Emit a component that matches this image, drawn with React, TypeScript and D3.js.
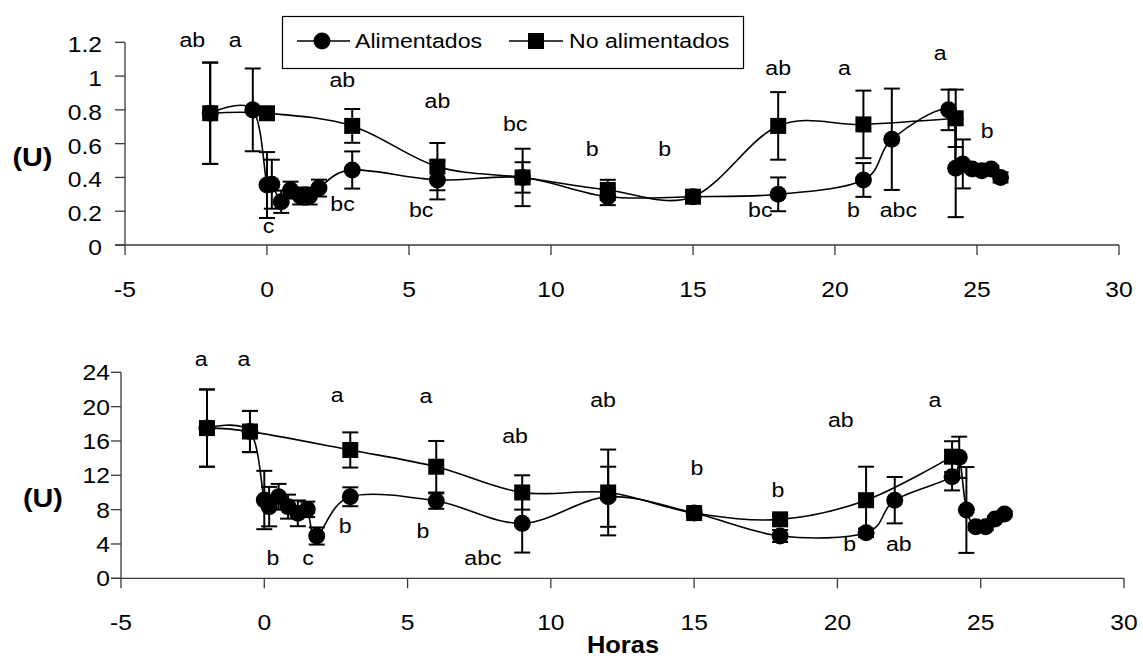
import React from "react";
import * as d3 from "d3";

const W = 1143;
const H = 660;
const FONT = "'Liberation Sans', Arial, sans-serif";

// ---------- Top panel data ----------
const topFedHours = [-2, -0.5, 0, 0.17, 0.5, 0.83, 1.17, 1.5, 1.83, 3, 6, 9, 12, 15, 18, 21, 22, 24, 24.25, 24.5, 24.83, 25.17, 25.5, 25.83];
const topFedValues = [0.78, 0.8, 0.355, 0.36, 0.256, 0.325, 0.29, 0.29, 0.337, 0.444, 0.385, 0.4, 0.286, 0.286, 0.3, 0.385, 0.626, 0.8, 0.455, 0.48, 0.45, 0.44, 0.45, 0.4];
const topFedErrors = [0.3, 0.245, 0.195, 0.145, 0.066, 0.05, 0.05, 0.05, 0.05, 0.11, 0.115, 0.17, 0.05, 0.02, 0.1, 0.1, 0.3, 0.12, 0.29, 0.145, 0.02, 0.02, 0.02, 0.03];

const topUnfedHours = [-2, 0, 3, 6, 9, 12, 15, 18, 21, 24.25];
const topUnfedValues = [0.78, 0.78, 0.705, 0.464, 0.4, 0.326, 0.286, 0.705, 0.714, 0.75];
const topUnfedErrors = [0.3, 0.01, 0.1, 0.14, 0.09, 0.06, 0.02, 0.2, 0.2, 0.17];

const topLetters = ["ab", "a", "ab", "c", "bc", "ab", "bc", "b", "b", "bc", "ab", "a", "a", "b", "bc", "b", "abc"];
const topLetterHours = [-2.63, -1.12, 2.65, 0.05, 2.66, 6.0, 8.74, 11.45, 14.0, 5.43, 18.0, 20.33, 23.7, 25.36, 17.37, 20.65, 22.23];
const topLetterLevels = [1.17, 1.17, 0.935, 0.071, 0.203, 0.81, 0.675, 0.527, 0.527, 0.166, 1.006, 1.006, 1.095, 0.633, 0.166, 0.166, 0.166];

const topYTicks = [0, 0.2, 0.4, 0.6, 0.8, 1, 1.2];

// ---------- Bottom panel data ----------
const botFedHours = [-2, -0.5, 0, 0.17, 0.5, 0.83, 1.17, 1.5, 1.83, 3, 6, 9, 12, 15, 18, 21, 22, 24, 24.25, 24.5, 24.83, 25.17, 25.5, 25.83];
const botFedValues = [17.5, 17.1, 9.12, 8.35, 9.5, 8.35, 7.57, 8.03, 4.93, 9.5, 9.0, 6.4, 9.5, 7.6, 4.93, 5.3, 9.1, 11.84, 14.1, 7.96, 6.0, 6.0, 6.9, 7.5];
const botFedErrors = [4.5, 2.4, 3.4, 2.3, 1.5, 1.4, 1.5, 0.9, 1.0, 1.1, 0.9, 3.4, 3.5, 0.4, 0.7, 0.5, 2.7, 1.6, 2.4, 5.0, 0.4, 0.4, 0.3, 0.3];

const botUnfedHours = [-2, -0.5, 3, 6, 9, 12, 15, 18, 21, 24];
const botUnfedValues = [17.5, 17.1, 14.95, 13.0, 10.0, 10.0, 7.6, 6.87, 9.1, 14.17];
const botUnfedErrors = [4.5, 2.4, 2.05, 3.0, 2.0, 5.0, 0.3, 0.5, 3.9, 1.8];

const botLetters = ["a", "a", "a", "b", "c", "b", "a", "ab", "ab", "b", "b", "abc", "b", "ab", "a", "b", "ab"];
const botLetterHours = [-2.2, -0.71, 2.54, 0.3, 1.53, 2.82, 5.64, 8.75, 11.82, 15.1, 5.54, 7.63, 17.92, 20.12, 23.4, 20.43, 22.14];
const botLetterLevels = [24.75, 24.75, 20.55, 1.55, 1.55, 5.28, 20.43, 15.77, 19.97, 12.04, 4.7, 1.55, 9.48, 17.63, 19.97, 3.18, 3.18];

const botYTicks = [0, 4, 8, 12, 16, 20, 24];

const xTicks = [-5, 0, 5, 10, 15, 20, 25, 30];

const legendLabels = ["Alimentados", "No alimentados"];
const yAxisTitle = "(U)";
const xAxisTitle = "Horas";

type Pt = { x: number; y: number; e: number };

const zip = (xs: number[], ys: number[], es: number[]): Pt[] =>
  xs.map((x, i) => ({ x, y: ys[i], e: es[i] }));

function STxt(props: {
  x: number;
  y: number;
  size: number;
  anchor?: string;
  bold?: boolean;
  sx?: number;
  children: React.ReactNode;
}) {
  const { x, y, size, anchor = "middle", bold = false, sx = 1.1, children } = props;
  return (
    <text
      transform={`translate(${x},${y}) scale(${sx},1)`}
      fontSize={size}
      textAnchor={anchor}
      fontFamily={FONT}
      fontWeight={bold ? "bold" : "normal"}
      fill="#000"
    >
      {children}
    </text>
  );
}

function Circle({ cx, cy }: { cx: number; cy: number }) {
  return <circle cx={cx} cy={cy} r={8.5} fill="#000" />;
}
function Square({ cx, cy }: { cx: number; cy: number }) {
  return <rect x={cx - 8} y={cy - 8} width={16} height={16} fill="#000" />;
}

function Panel(props: {
  xRange: [number, number];
  yDomain: [number, number];
  yRange: [number, number];
  yTicks: number[];
  yLabelGap: number;
  yLabelDy: number;
  fed: Pt[];
  unfed: Pt[];
  letters: string[];
  letterHours: number[];
  letterLevels: number[];
  titleX: number;
  titleY: number;
}) {
  const x = d3.scaleLinear().domain([-5, 30]).range(props.xRange);
  const y = d3.scaleLinear().domain(props.yDomain).range(props.yRange);
  const line = d3
    .line<Pt>()
    .x((d) => x(d.x))
    .y((d) => y(d.y))
    .curve(d3.curveCardinal.tension(0));
  const x0 = props.xRange[0];
  const yBase = y(0);
  const axisColor = "#3a3a3a";

  const errBars = (pts: Pt[], key: string) =>
    pts.map((d, i) =>
      d.e > 0.015 ? (
        <g key={key + i} stroke="#000" strokeWidth={2}>
          <line x1={x(d.x)} x2={x(d.x)} y1={y(d.y + d.e)} y2={y(d.y - d.e)} />
          <line x1={x(d.x) - 8} x2={x(d.x) + 8} y1={y(d.y + d.e)} y2={y(d.y + d.e)} />
          <line x1={x(d.x) - 8} x2={x(d.x) + 8} y1={y(d.y - d.e)} y2={y(d.y - d.e)} />
        </g>
      ) : null
    );

  return (
    <g>
      {/* axes */}
      <line x1={x0} x2={x0} y1={y(props.yDomain[1])} y2={yBase} stroke={axisColor} strokeWidth={1.3} />
      <line x1={x0 - 10} x2={x(30)} y1={yBase} y2={yBase} stroke={axisColor} strokeWidth={1.3} />
      {props.yTicks.map((t) => (
        <g key={"yt" + t}>
          <line x1={x0 - 10} x2={x0} y1={y(t)} y2={y(t)} stroke={axisColor} strokeWidth={1.3} />
          <STxt x={x0 - props.yLabelGap} y={y(t) + props.yLabelDy} size={22} anchor="end" sx={1.12}>
            {String(t)}
          </STxt>
        </g>
      ))}
      {xTicks.map((t) => (
        <g key={"xt" + t}>
          <line x1={x(t)} x2={x(t)} y1={yBase} y2={yBase + 10} stroke={axisColor} strokeWidth={1.3} />
          <STxt x={x(t)} y={yBase + 52} size={22} sx={1.12}>
            {String(t)}
          </STxt>
        </g>
      ))}
      <STxt x={props.titleX} y={props.titleY} size={25} bold sx={1.15}>
        {yAxisTitle}
      </STxt>

      {/* lines */}
      <path d={line(props.unfed) || ""} fill="none" stroke="#000" strokeWidth={1.6} />
      <path d={line(props.fed) || ""} fill="none" stroke="#000" strokeWidth={1.6} />

      {/* error bars */}
      {errBars(props.unfed, "eu")}
      {errBars(props.fed, "ef")}

      {/* markers */}
      {props.unfed.map((d, i) => (
        <Square key={"s" + i} cx={x(d.x)} cy={y(d.y)} />
      ))}
      {props.fed.map((d, i) => (
        <Circle key={"c" + i} cx={x(d.x)} cy={y(d.y)} />
      ))}

      {/* letters */}
      {props.letters.map((l, i) => (
        <STxt key={"l" + i} x={x(props.letterHours[i])} y={y(props.letterLevels[i])} size={21} sx={1.1}>
          {l}
        </STxt>
      ))}
    </g>
  );
}

export default function App() {
  return (
    <svg
      width={W}
      height={H}
      viewBox={`0 0 ${W} ${H}`}
      style={{ position: "absolute", left: 0, top: 0, display: "block", background: "#fff" }}
    >
      <rect x={0} y={0} width={W} height={H} fill="#fff" />
      <Panel
        xRange={[125, 1119]}
        yDomain={[0, 1.2]}
        yRange={[245, 42.3]}
        yTicks={topYTicks}
        yLabelGap={23}
        yLabelDy={10}
        fed={zip(topFedHours, topFedValues, topFedErrors)}
        unfed={zip(topUnfedHours, topUnfedValues, topUnfedErrors)}
        letters={topLetters}
        letterHours={topLetterHours}
        letterLevels={topLetterLevels}
        titleX={32.5}
        titleY={166}
      />
      <Panel
        xRange={[121, 1124]}
        yDomain={[0, 24]}
        yRange={[578.3, 372.3]}
        yTicks={botYTicks}
        yLabelGap={11}
        yLabelDy={8}
        fed={zip(botFedHours, botFedValues, botFedErrors)}
        unfed={zip(botUnfedHours, botUnfedValues, botUnfedErrors)}
        letters={botLetters}
        letterHours={botLetterHours}
        letterLevels={botLetterLevels}
        titleX={43}
        titleY={507}
      />
      <STxt x={623} y={653} size={24} bold sx={1.06}>
        {xAxisTitle}
      </STxt>

      {/* legend */}
      <rect x={282.5} y={16.5} width={461} height={52} fill="#fff" stroke="#000" strokeWidth={1.2} />
      <line x1={297} x2={350} y1={41} y2={41} stroke="#000" strokeWidth={1.6} />
      <Circle cx={322} cy={41} />
      <STxt x={355} y={48} size={21} anchor="start" sx={1.1}>
        {legendLabels[0]}
      </STxt>
      <line x1={509} x2={563} y1={41} y2={41} stroke="#000" strokeWidth={1.6} />
      <Square cx={536} cy={41} />
      <STxt x={569} y={48} size={21} anchor="start" sx={1.1}>
        {legendLabels[1]}
      </STxt>
    </svg>
  );
}
